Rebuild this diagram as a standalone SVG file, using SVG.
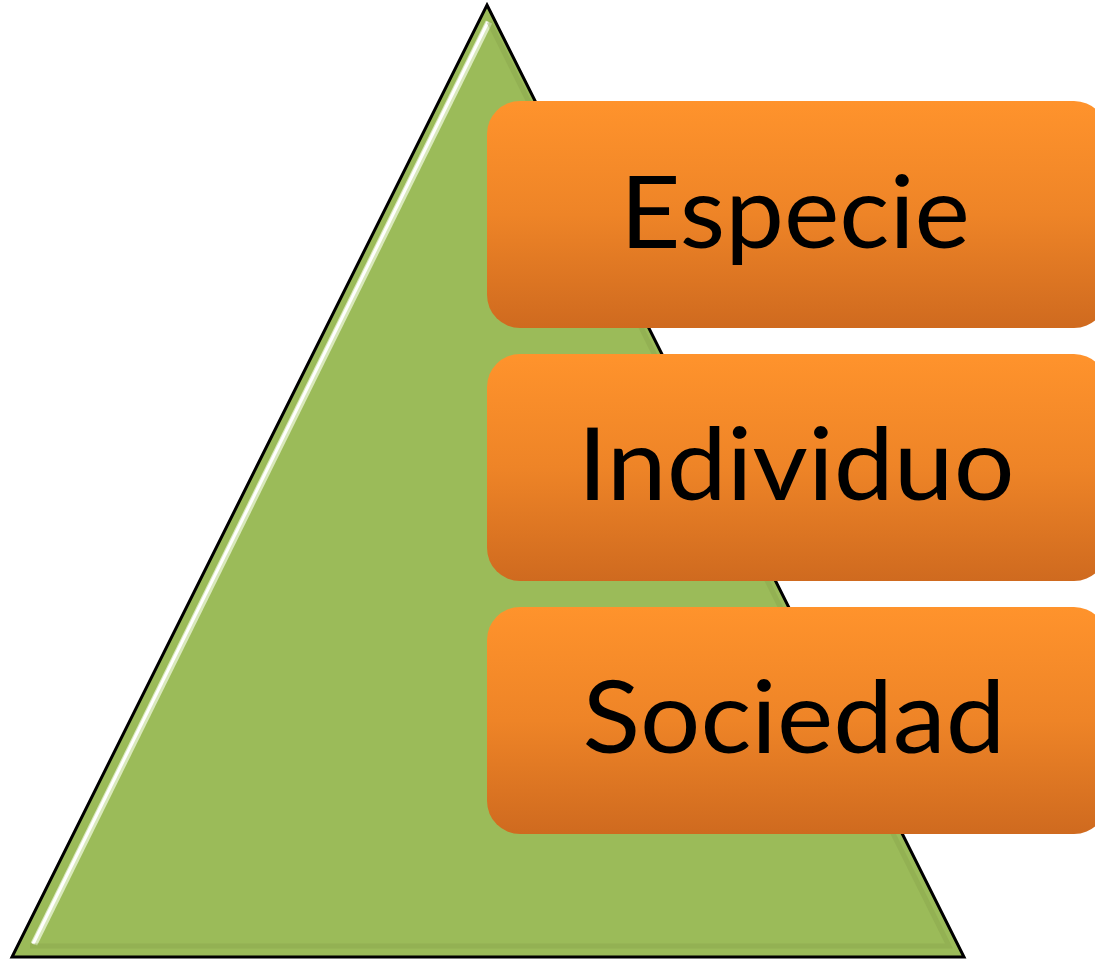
<svg xmlns="http://www.w3.org/2000/svg" width="1095" height="960" viewBox="0 0 1095 960">
<defs>
<linearGradient id="og" x1="0" y1="0" x2="0" y2="1">
<stop offset="0" stop-color="#FF932C"/>
<stop offset="0.5" stop-color="#EE8427"/>
<stop offset="1" stop-color="#CF6A1F"/>
</linearGradient>
<style>
.box{fill:url(#og);}
.lbl{font-family:Lato,"Open Sans","Liberation Sans",sans-serif;font-size:100px;fill:#000;text-anchor:middle;}
</style>
</defs>
<g id="pyramid">
<polygon points="487,5 964,957 12,957" fill="#9BBB59" stroke="#000" stroke-width="3" stroke-linejoin="miter"/>
<line x1="489" y1="22" x2="34" y2="944" stroke="#D9E8BC" stroke-width="7"/>
<line x1="488" y1="22" x2="33" y2="944" stroke="#ffffff" stroke-width="3"/>
<polyline points="489,22 949,946 30,946" fill="none" stroke="#86A34C" stroke-width="5" opacity="0.4"/>
</g>
<g id="especie">
<rect class="box" x="487" y="101" width="620" height="227" rx="33" ry="33"/>
<text class="lbl" x="795" y="248" textLength="350" lengthAdjust="spacingAndGlyphs">Especie</text>
</g>
<g id="individuo">
<rect class="box" x="487" y="354" width="620" height="227" rx="33" ry="33"/>
<text class="lbl" x="796" y="500" textLength="437" lengthAdjust="spacingAndGlyphs">Individuo</text>
</g>
<g id="sociedad">
<rect class="box" x="487" y="607" width="620" height="227" rx="33" ry="33"/>
<text class="lbl" x="794" y="753" textLength="423" lengthAdjust="spacingAndGlyphs">Sociedad</text>
</g>
<g id="connectors"/>
</svg>
